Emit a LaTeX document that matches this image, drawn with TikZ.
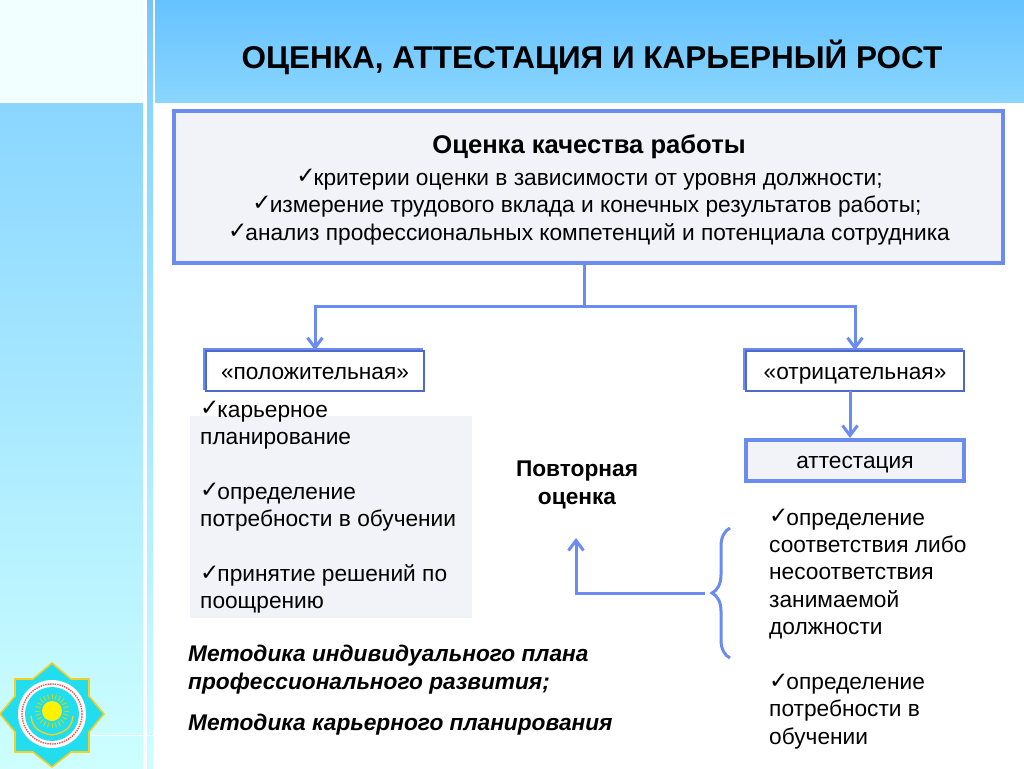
\documentclass[tikz,border=0pt]{standalone}
\usepackage{fontspec}
\setmainfont{Liberation Sans}
\newfontfamily\chkfont{DejaVu Sans}
\usetikzlibrary{positioning,arrows.meta,decorations.pathreplacing,calc,shadows}
\definecolor{lineblue}{HTML}{6A8CF0}
\definecolor{linedark}{HTML}{5068C8}
\definecolor{panelgrey}{HTML}{F2F3F8}
\definecolor{stargold}{HTML}{F5D020}
\definecolor{starcyan}{HTML}{22DDEE}
\definecolor{skytop}{HTML}{66C2FF}
\definecolor{skymid}{HTML}{8AD6FF}
\definecolor{skypale}{HTML}{CDFFFF}
\definecolor{skystrip}{HTML}{78C4FA}
\definecolor{palecorner}{HTML}{F2FFFF}
\newcommand{\chk}{\raisebox{1.5pt}{\chkfont\fontsize{23}{23}\selectfont ✓}\kern-2pt}
\tikzset{
  bluebox/.style={draw=lineblue,line width=4pt,fill=panelgrey,inner sep=0pt},
  thinbox/.style={draw=linedark,line width=1.6pt,fill=white,minimum width=218pt,minimum height=40pt,inner sep=0pt,
    text height=20pt,text depth=4pt,font=\fontsize{22.7}{22.7}\selectfont,
    copy shadow={shadow xshift=-2pt,shadow yshift=2pt,draw=lineblue,fill=white}},
  bodytxt/.style={align=left,inner sep=0pt,font=\fontsize{22.7}{27.4}\selectfont},
  linetxt/.style={anchor=base,inner sep=0pt,font=\fontsize{22.7}{22.7}\selectfont},
  link/.style={draw=lineblue,line width=3pt},
  arr/.style={link,-{Straight Barb[length=10pt,width=15pt,line width=3pt]}}
}
\begin{document}
\begin{tikzpicture}[x=1pt,y=-1pt]
      \useasboundingbox (0,0) rectangle (1024,768);
      % background
      \fill[white] (0,0) rectangle (1024,768);
      \fill[palecorner] (0,0) rectangle (143,102);
      \fill[top color=skymid,bottom color=skypale] (0,103) rectangle (143,768);
      \fill[top color=skystrip,bottom color=skymid] (147,0) rectangle (153,102);
      \fill[top color=skymid,bottom color=skypale] (147,103) rectangle (153,768);
      \fill[top color=skytop,bottom color=skymid] (155,0) rectangle (1024,102);
      \draw[white,line width=1pt] (90,735) -- (155,735);

      % emblem
      \coordinate (emb) at (52,714);
      \filldraw[fill=starcyan,draw=stargold,line width=1.6pt]
        (0,714) -- (15,696) -- (15,679) -- (33,679) -- (52,663) -- (71,679) -- (89,679) -- (89,696)
        -- (104,714) -- (89,732) -- (89,752) -- (71,752) -- (52,767) -- (33,752) -- (15,752) -- (15,732) -- cycle;
      \fill[white] (emb) circle (34);
      \draw[red!70!white,line width=1.4pt,densely dotted] (emb) circle (30);
      \fill[starcyan] (emb) circle (27);
      \foreach \a in {0,15,...,345}
        \draw[stargold!80!green,line width=1pt] ($(emb)+(0,-3)+(\a:12)$) -- ($(emb)+(0,-3)+(\a:17)$);
      \fill[yellow] ($(emb)+(0,-3)$) circle (10);
      \draw[stargold,line width=1.4pt] (31,716) .. controls (32,728) and (40,733) .. (52,735) .. controls (64,733) and (72,728) .. (73,716);

      \node[anchor=base,inner sep=0pt,font=\bfseries\fontsize{31.5}{31.5}\selectfont] (title) at (592,68) {ОЦЕНКА, АТТЕСТАЦИЯ И КАРЬЕРНЫЙ РОСТ};

      % main box
      \node[bluebox,minimum width=829pt,minimum height=152pt] (main) at (588.5,186.5) {};
      \node[linetxt,font=\bfseries\fontsize{25.6}{25.6}\selectfont] (mainhead) at (589,153) {Оценка качества работы};
      \node[linetxt] (crit1) at (589.5,185) {\chk критерии оценки в зависимости от уровня должности;};
      \node[linetxt] (crit2) at (587,212) {\chk измерение трудового вклада и конечных результатов работы;};
      \node[linetxt] (crit3) at (589,240) {\chk анализ профессиональных компетенций и потенциала сотрудника};

      % second row
      \node[thinbox] (pos) at (315,371) {«положительная»};
      \node[thinbox] (neg) at (855,371) {«отрицательная»};
      \node[bluebox,minimum width=218pt,minimum height=41pt,text height=19pt,text depth=4pt,font=\fontsize{22.7}{22.7}\selectfont] (att) at (855,460.5) {аттестация};

      \coordinate (fork) at (584,306);
      \draw[link] (main.south -| fork) -- (fork);
      \draw[arr] (fork) -| (pos.north);
      \draw[arr] (fork) -| (neg.north);
      \coordinate (attfrom) at (850,391);
      \coordinate (attto) at (850,438);
      \draw[arr] (attfrom) -- (attto);

      % left panel
      \fill[panelgrey] (190,416) rectangle (472,618);
      \node[bodytxt,anchor=north west] (plus) at (200,401) {\chk карьерное\\планирование\\[27.4pt]\chk определение\\потребности в обучении\\[27.4pt]\chk принятие решений по\\поощрению};

      \node[bodytxt,align=center,font=\bfseries\fontsize{22.7}{27.4}\selectfont] (again) at (577,485) {Повторная\\оценка};
      \node[bodytxt,font=\bfseries\itshape\fontsize{22.7}{27.4}\selectfont,anchor=north west] (plan) at (188,645) {Методика индивидуального плана\\профессионального развития;};
      \node[bodytxt,font=\bfseries\itshape\fontsize{22.7}{22.7}\selectfont,anchor=north west] (career) at (188,714) {Методика карьерного планирования};

      % right text
      \node[bodytxt,anchor=north west] (minus) at (769,509) {\chk определение\\соответствия либо\\несоответствия\\занимаемой\\должности\\[27.4pt]\chk определение\\потребности в\\обучении};

      % brace and return arrow
      \coordinate (bracetop) at (730,528);
      \coordinate (bracebot) at (730,658);
      \draw[draw=lineblue,line width=3pt,decorate,decoration={brace,amplitude=18pt,mirror}] (bracetop) -- (bracebot);
      \coordinate (retstart) at (705,593);
      \coordinate (retcorner) at (576,593);
      \coordinate (retend) at (576,538);
      \draw[arr] (retstart) -- (retcorner) -- (retend);
\end{tikzpicture}
\end{document}
